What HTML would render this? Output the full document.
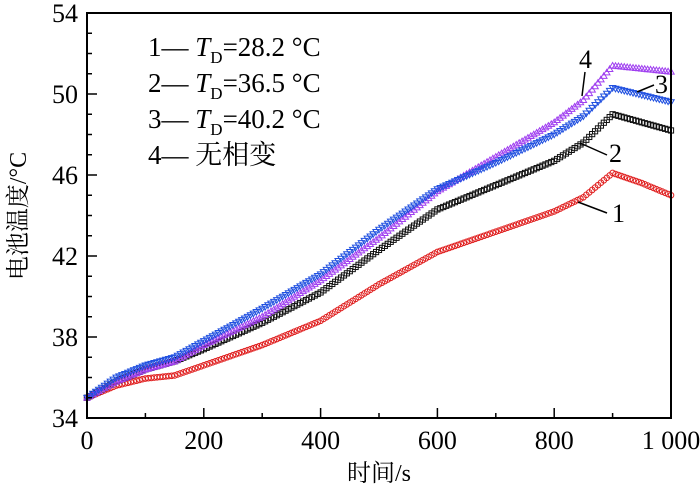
<!DOCTYPE html>
<html><head><meta charset="utf-8">
<style>
body{margin:0;background:#fff;}
svg text{font-family:"Liberation Serif","Noto Serif CJK SC",serif;fill:#000;}
</style></head>
<body>
<svg id="chart" width="700" height="492" viewBox="0 0 700 492" xmlns="http://www.w3.org/2000/svg">
<g id="marks"></g>
<g id="axes"></g>
<g font-size="27">
<text x="148" y="56">1— <tspan font-style="italic">T</tspan><tspan font-size="17" dy="7">D</tspan><tspan dy="-7">=28.2 °C</tspan></text>
<text x="148" y="92">2— <tspan font-style="italic">T</tspan><tspan font-size="17" dy="7">D</tspan><tspan dy="-7">=36.5 °C</tspan></text>
<text x="148" y="128">3— <tspan font-style="italic">T</tspan><tspan font-size="17" dy="7">D</tspan><tspan dy="-7">=40.2 °C</tspan></text>
<text x="148" y="164">4— 无相变</text>
</g>
<g font-size="26" stroke="#000" stroke-width="1.5">
<line x1="582" y1="96" x2="585" y2="72"/>
<text x="579" y="68" stroke="none">4</text>
<line x1="637" y1="92" x2="654" y2="85"/>
<text x="655" y="93" stroke="none">3</text>
<line x1="580" y1="143" x2="607" y2="155"/>
<text x="609" y="162" stroke="none">2</text>
<line x1="578" y1="202" x2="607" y2="213"/>
<text x="612" y="222" stroke="none">1</text>
</g>
</svg>
<script>
const times = [0,50,100,150,200,300,400,500,600,700,800,850,900,950,1000];
const s1 = [35,35.6,35.95,36.1,36.6,37.6,38.8,40.6,42.2,43.2,44.2,44.9,46.1,45.6,45.0];
const s2 = [35,35.8,36.4,36.8,37.4,38.7,40.2,42.3,44.3,45.5,46.7,47.6,49.0,48.6,48.2];
const s3 = [35,36.0,36.6,37.0,37.8,39.4,41.1,43.3,45.3,46.6,48.0,48.9,50.3,49.95,49.6];
const s4 = [35,35.8,36.4,36.8,37.6,39.0,40.8,42.9,45.2,46.9,48.6,49.7,51.4,51.25,51.1];
const xTicks = [0,200,400,600,800,1000];
const xTickLabels = ["0","200","400","600","800","1 000"];
const yTicks = [34,38,42,46,50,54];
const yTickLabels = ["34","38","42","46","50","54"];

const L=87,R=671,T=13,B=418;
const X=v=>L+(v-0)/1000*(R-L);
const Y=v=>B-(v-34)/20*(B-T);
const NS="http://www.w3.org/2000/svg";
const axes=document.getElementById('axes'), marks=document.getElementById('marks');
function mk(tag,attrs,parent){const e=document.createElementNS(NS,tag);for(const k in attrs)e.setAttribute(k,attrs[k]);parent.appendChild(e);return e;}

const frame=mk('rect',{x:L,y:T,width:R-L,height:B-T,fill:'none',stroke:'#000','stroke-width':2},axes);


for(let v=0;v<=1000;v+=100){
  const len=(v%200===0)?10:5;
  const t=mk('line',{x1:X(v),x2:X(v),y1:B,y2:B-len,stroke:'#000','stroke-width':1.5},axes);
  
  
}
for(let v=34;v<=54;v+=1){
  const len=((v-34)%4===0)?10:5;
  const t=mk('line',{x1:L,x2:L+len,y1:Y(v),y2:Y(v),stroke:'#000','stroke-width':1.5},axes);
  
  
}
xTicks.forEach((v,i)=>{
  const t=mk('text',{x:X(v),y:449,'text-anchor':'middle','font-size':26},axes);
  t.textContent=xTickLabels[i];
  
  
});
yTicks.forEach((v,i)=>{
  const t=mk('text',{x:78,y:Y(v)+9,'text-anchor':'end','font-size':26},axes);
  t.textContent=yTickLabels[i];
  
  
});
const xt=mk('text',{x:379,y:481,'text-anchor':'middle','font-size':24},axes);
xt.textContent='时间/s';


const yt=mk('text',{x:0,y:0,'text-anchor':'middle','font-size':24,transform:'translate(26,216) rotate(-90)'},axes);
yt.textContent='电池温度/°C';



function interp(arr,t){
  for(let i=0;i<times.length-1;i++){
    if(t<=times[i+1]){const f=(t-times[i])/(times[i+1]-times[i]);return arr[i]+f*(arr[i+1]-arr[i]);}
  }
  return arr[arr.length-1];
}
const series=[
 {d:s1,c:'#e02020',m:'circle',n:'series-1'},
 {d:s2,c:'#111',m:'square',n:'series-2'},
 {d:s4,c:'#a040f0',m:'tri-up',n:'series-4'},
 {d:s3,c:'#2050e0',m:'tri-down',n:'series-3'}
];
series.forEach(s=>{
  const g=mk('g',{fill:'none',stroke:s.c,'stroke-width':1},marks);
  
  
  for(let t=0;t<=1000;t+=5){
    const x=X(t),y=Y(interp(s.d,t));
    let e;
    if(s.m==='circle') e=mk('circle',{cx:x,cy:y,r:2.8},g);
    else if(s.m==='square') e=mk('rect',{x:x-2.6,y:y-2.6,width:5.2,height:5.2},g);
    else if(s.m==='tri-up') e=mk('polygon',{points:`${x},${y-3.2} ${x-3.2},${y+2.4} ${x+3.2},${y+2.4}`},g);
    else e=mk('polygon',{points:`${x},${y+3.2} ${x-3.2},${y-2.4} ${x+3.2},${y-2.4}`},g);
    
    
  }
});
</script>
</body></html>
